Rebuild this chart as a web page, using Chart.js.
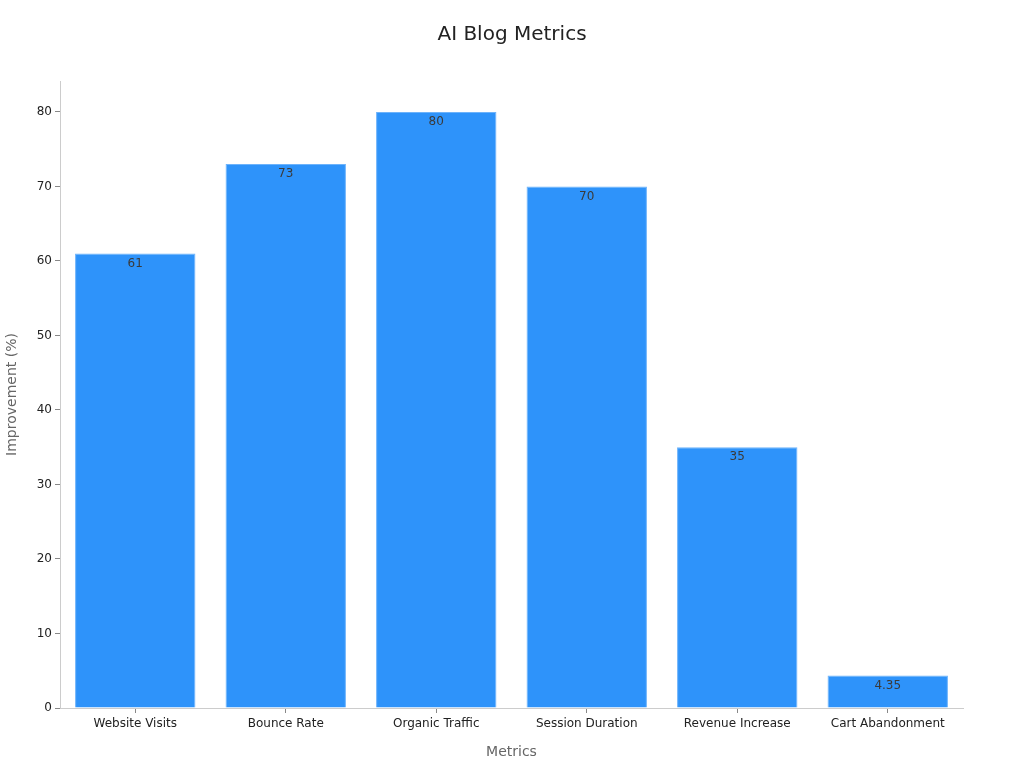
<!DOCTYPE html>
<html>
<head>
<meta charset="utf-8">
<style>
  html, body { margin: 0; padding: 0; background: #fff; }
  #wrap { width: 1024px; height: 768px; }
</style>
<script src="https://cdn.jsdelivr.net/npm/chart.js@4.4.0/dist/chart.umd.min.js"></script>
</head>
<body>
<div id="wrap"><canvas id="myChart" width="1024" height="768"></canvas></div>
<script>
// data
var categories = ['Website Visits', 'Bounce Rate', 'Organic Traffic', 'Session Duration', 'Revenue Increase', 'Cart Abandonment'];
var improvement = [61, 73, 80, 70, 35, 4.35];
var yTicks = [0, 10, 20, 30, 40, 50, 60, 70, 80];

Chart.defaults.font.family = '"DejaVu Sans", sans-serif';

// labels written just inside the top of each bar
var barLabels = {
    id: 'barLabels',
    afterDatasetsDraw: function (chart) {
        var ctx = chart.ctx;
        var meta = chart.getDatasetMeta(0);
        ctx.save();
        ctx.font = '12px "DejaVu Sans", sans-serif';
        ctx.fillStyle = '#3a3a3a';
        ctx.textAlign = 'center';
        ctx.textBaseline = 'middle';
        meta.data.forEach(function (bar, i) {
            ctx.fillText(String(improvement[i]), bar.x, bar.y + 10);
        });
        ctx.restore();
    }
};

var chartBlock = document.getElementById('myChart');
var myChart = new Chart(chartBlock, {
    type: 'bar',
    data: {
        labels: categories,
        datasets: [{
            label: 'Improvement (%)',
            data: improvement,
            backgroundColor: '#2E93FA',
            borderColor: '#6DB3FB',
            borderWidth: 1,
            barPercentage: 0.8,
            categoryPercentage: 1.0
        }]
    },
    options: {
        responsive: false,
        animation: false,
        layout: { padding: 0 },
        plugins: {
            legend: { display: false },
            tooltip: { enabled: false },
            title: {
                display: true,
                text: 'AI Blog Metrics',
                color: '#222',
                font: { size: 20, weight: 'normal' },
                padding: { top: 23, bottom: 34 }
            }
        },
        scales: {
            x: {
                grid: { offset: false, drawOnChartArea: false, drawTicks: true, tickLength: 5, color: '#888' },
                border: { color: '#ccc' },
                ticks: { color: '#222', font: { size: 12 }, padding: 4, maxRotation: 0 },
                title: { display: true, text: 'Metrics', color: '#666', font: { size: 14 }, padding: { top: 5, bottom: 7 } },
                afterFit: function (scale) { scale.height = 60; }
            },
            y: {
                min: 0,
                max: 84.15,
                afterBuildTicks: function (scale) {
                    scale.ticks = yTicks.map(function (v) { return { value: v }; });
                },
                grid: { drawOnChartArea: false, drawTicks: true, tickLength: 5, color: '#888' },
                border: { color: '#ccc' },
                ticks: { color: '#222', font: { size: 12 }, padding: 3 },
                title: { display: true, text: 'Improvement (%)', color: '#666', font: { size: 14 }, padding: { bottom: 6 } },
                afterFit: function (scale) { scale.width = 60; }
            },
            // empty right-hand margin so the title stays centred on the page
            yRight: {
                position: 'right',
                grid: { display: false },
                border: { display: false },
                ticks: { display: false },
                afterFit: function (scale) { scale.width = 61; }
            }
        }
    },
    plugins: [barLabels]
});
</script>
</body>
</html>
